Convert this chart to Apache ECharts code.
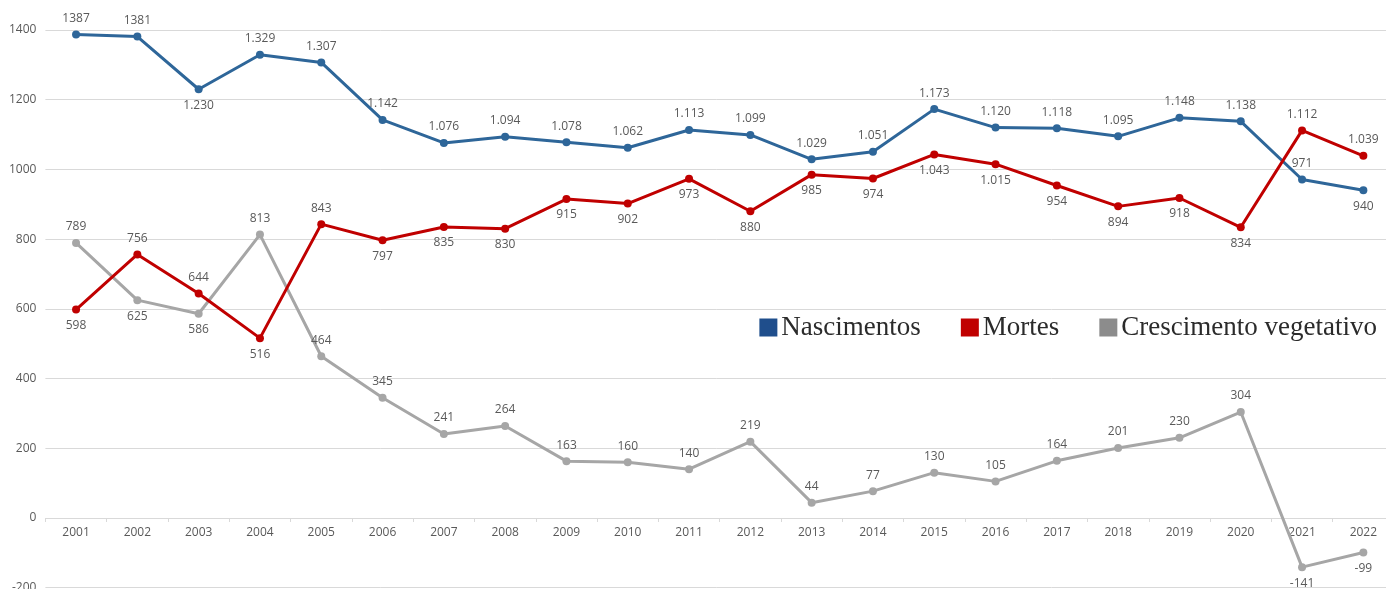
<!DOCTYPE html>
<html>
<head>
<meta charset="utf-8">
<script src="https://cdn.jsdelivr.net/npm/echarts@6/dist/echarts.min.js"></script>
<style>
html,body{margin:0;padding:0;background:#fff;}
#chart{width:1386px;height:589px;}
</style>
</head>
<body>
<div id="chart"></div>
<script>
const years = ['2001','2002','2003','2004','2005','2006','2007','2008','2009','2010','2011','2012','2013','2014','2015','2016','2017','2018','2019','2020','2021','2022'];
const nascimentos = [1387,1381,1230,1329,1307,1142,1076,1094,1078,1062,1113,1099,1029,1051,1173,1120,1118,1095,1148,1138,971,940];
const mortes = [598,756,644,516,843,797,835,830,915,902,973,880,985,974,1043,1015,954,894,918,834,1112,1039];
const crescimento = [789,625,586,813,464,345,241,264,163,160,140,219,44,77,130,105,164,201,230,304,-141,-99];
const seriesNames = ['Nascimentos','Mortes','Crescimento vegetativo'];
// label placement per point: 1 = above, 0 = below
const nascPos = [1,1,0,1,1,1,1,1,1,1,1,1,1,1,1,1,1,1,1,1,1,0];
const mortPos = [0,1,1,0,1,0,0,0,0,0,0,0,0,0,0,0,0,0,0,0,1,1];
const crescPos = [1,0,0,1,1,1,1,1,1,1,1,1,1,1,1,1,1,1,1,1,0,0];
// indices whose labels are shown without thousands separator
const nascPlain = [0,1];

function fmt(v, plain){
  if (plain || Math.abs(v) < 1000) return String(v);
  const s = String(Math.abs(v));
  return (v<0?'-':'') + s.slice(0, s.length-3) + '.' + s.slice(s.length-3);
}

const labelStyle = {fontFamily:'Open Sans', fontSize:12, color:'#595959'};

function buildData(vals, pos, plainIdx){
  return vals.map((v,i)=>({
    value:v,
    label:Object.assign({show:true, position: pos[i] ? 'top':'bottom', distance:6,
      formatter: fmt(v, plainIdx && plainIdx.indexOf(i)>=0)}, labelStyle)
  }));
}

const lineColors = ['#2E6699','#C00000','#A6A6A6'];
const legendColors = ['#1F4E8C','#C00000','#8C8C8C'];

const gridTop = 30, gridBottom = 1.3, chartH = 589;
const yMin = -200, yMax = 1400;
const plotH = chartH - gridTop - gridBottom;
const zeroOffset = plotH * (0 - yMin) / (yMax - yMin);

const chart = echarts.init(document.getElementById('chart'), null, {renderer:'canvas'});
chart.setOption({
  animation:false,
  backgroundColor:'#fff',
  grid:{left:45.4, width:1348.6, top:gridTop, bottom:gridBottom, containLabel:false, outerBoundsMode:'none'},
  legend:{
    right:4, top:309,
    itemWidth:18, itemHeight:18, itemGap:40,
    icon:'rect',
    textStyle:{fontFamily:'Liberation Serif', fontSize:27, color:'#2b2b2b', padding:[0,0,0,-1]},
    data: seriesNames.map((n,i)=>({name:n, itemStyle:{color:legendColors[i]}}))
  },
  xAxis:{
    type:'category', data:years, boundaryGap:true, position:'bottom', offset:-zeroOffset,
    axisLine:{show:true, onZero:false, lineStyle:{color:'#D9D9D9', width:1}},
    axisTick:{show:true, length:4, lineStyle:{color:'#D9D9D9'}},
    axisLabel:{fontFamily:'Open Sans', fontSize:12, color:'#595959', margin:9},
    splitLine:{show:false}
  },
  yAxis:{
    type:'value', min:yMin, max:yMax, interval:200,
    axisLine:{show:false}, axisTick:{show:false},
    axisLabel:{fontFamily:'Open Sans', fontSize:12, color:'#595959', margin:9, formatter:(v)=>String(v)},
    splitLine:{lineStyle:{color:'#D9D9D9', width:1}}
  },
  series:[
    {name:seriesNames[0], type:'line', data:buildData(nascimentos,nascPos,nascPlain),
     symbol:'circle', symbolSize:8, lineStyle:{width:3,color:lineColors[0]}, itemStyle:{color:lineColors[0]}, z:3},
    {name:seriesNames[1], type:'line', data:buildData(mortes,mortPos,null),
     symbol:'circle', symbolSize:8, lineStyle:{width:3,color:lineColors[1]}, itemStyle:{color:lineColors[1]}, z:4},
    {name:seriesNames[2], type:'line', data:buildData(crescimento,crescPos,null),
     symbol:'circle', symbolSize:8, lineStyle:{width:3,color:lineColors[2]}, itemStyle:{color:lineColors[2]}, z:2}
  ]
});
</script>
</body>
</html>
